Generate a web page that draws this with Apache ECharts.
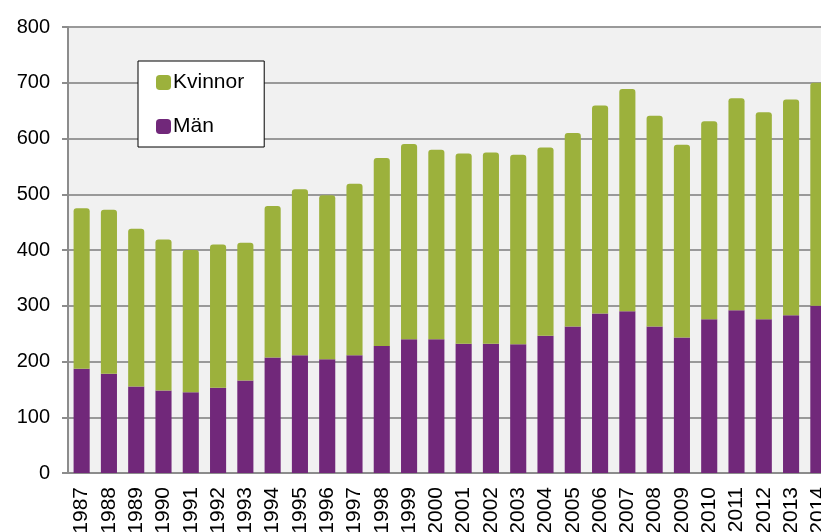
<!DOCTYPE html>
<html>
<head>
<meta charset="utf-8">
<script src="https://cdn.jsdelivr.net/npm/echarts@6/dist/echarts.min.js"></script>
<style>
  html, body { margin: 0; padding: 0; background: #fff; overflow: hidden; }
  /* the plot runs past the right edge of the picture, like in the original */
  #chart { width: 832px; height: 532px; }
</style>
</head>
<body>
<div id="chart"></div>
<script>
// årtal
const years = ['1987', '1988', '1989', '1990', '1991', '1992', '1993', '1994', '1995', '1996',
  '1997', '1998', '1999', '2000', '2001', '2002', '2003', '2004', '2005', '2006',
  '2007', '2008', '2009', '2010', '2011', '2012', '2013', '2014']

const man = [187, 178, 155, 148, 145, 153, 166, 207, 211, 204,
  211, 228, 240, 240, 232, 232, 231, 246, 263, 286,
  290, 263, 243, 276, 292, 276, 283, 300]

const kvinnor = [288, 294, 283, 271, 255, 257, 247, 272, 298, 294,
  308, 337, 350, 340, 341, 343, 340, 338, 347, 373,
  399, 378, 346, 355, 380, 371, 387, 400]

const yTicks = [0, 100, 200, 300, 400, 500, 600, 700, 800]

const chart = echarts.init(document.getElementById('chart'))

chart.setOption({
  animation: false,
  textStyle: { fontFamily: 'Liberation Sans, Arial, sans-serif' },
  grid: {
    left: 68,
    top: 27,
    bottom: 59,
    right: 0,
    outerBoundsMode: 'none',
    containLabel: false,
    show: true,
    backgroundColor: '#f1f1f1',
    borderWidth: 0
  },
  legend: {
    data: ['Kvinnor', 'Män'],
    orient: 'vertical',
    left: 138,
    top: 61,
    padding: [11, 20, 10, 18],
    itemGap: 23,
    itemWidth: 15,
    itemHeight: 15,
    icon: 'roundRect',
    backgroundColor: '#fff',
    borderColor: '#000',
    borderWidth: 1,
    textStyle: { fontSize: 21, color: '#000', padding: [0, 0, 0, -3] }
  },
  xAxis: {
    type: 'category',
    data: years,
    axisLine: { lineStyle: { color: '#8c8c8c', width: 2 } },
    axisTick: { length: 6, lineStyle: { color: '#8c8c8c', width: 2 } },
    axisLabel: { rotate: 90, fontSize: 21, color: '#000', margin: 14, interval: 0 }
  },
  yAxis: {
    type: 'value',
    min: yTicks[0],
    max: yTicks[yTicks.length - 1],
    interval: 100,
    axisLine: { show: true, lineStyle: { color: '#8c8c8c', width: 2 } },
    axisTick: { show: true, length: 6, lineStyle: { color: '#8c8c8c', width: 2 } },
    splitLine: { lineStyle: { color: '#999', width: 2 } },
    axisLabel: { fontSize: 20, color: '#000', margin: 18 }
  },
  series: [
    {
      name: 'Män',
      type: 'bar',
      stack: 'total',
      data: man,
      barWidth: '59%',
      itemStyle: { color: '#71287a' }
    },
    {
      name: 'Kvinnor',
      type: 'bar',
      stack: 'total',
      data: kvinnor,
      itemStyle: { color: '#9cb13c', borderRadius: [3, 3, 0, 0] }
    }
  ]
})
</script>
</body>
</html>
